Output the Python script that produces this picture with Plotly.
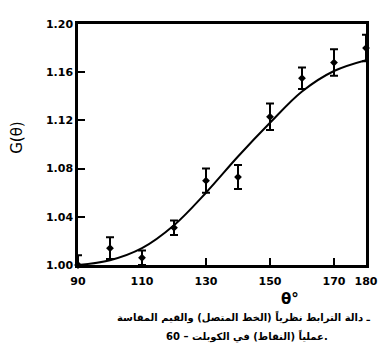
import plotly.graph_objects as go

# Measured points (dots with error bars)
theta_meas = [90, 100, 110, 120, 130, 140, 150, 160, 170, 180]
g_meas = [1.000, 1.014, 1.006, 1.031, 1.070, 1.073, 1.123, 1.155, 1.168, 1.180]
g_err = [0.008, 0.009, 0.006, 0.006, 0.010, 0.010, 0.011, 0.009, 0.011, 0.011]

# Theoretical curve (solid line)
theta_curve = [90, 100, 110, 120, 130, 140, 150, 160, 170, 180]
g_curve = [1.000, 1.004, 1.014, 1.033, 1.060, 1.090, 1.118, 1.144, 1.161, 1.170]

x_ticks = [90, 110, 130, 150, 170, 180]
y_ticks = [1.00, 1.04, 1.08, 1.12, 1.16, 1.20]
y_tick_labels = ["1.00", "1.04", "1.08", "1.12", "1.16", "1.20"]

caption_1 = "ـ دالة الترابط نظرياً (الخط المتصل) والقيم المقاسة"
caption_2 = "عملياً (النقاط) في الكوبلت – 60."

FONT = "DejaVu Sans"

fig = go.Figure()
fig.add_trace(go.Scatter(
    x=theta_curve, y=g_curve, mode="lines",
    line=dict(color="black", width=2, shape="spline", smoothing=1.0),
    cliponaxis=False, hoverinfo="skip", showlegend=False,
))
fig.add_trace(go.Scatter(
    x=theta_meas, y=g_meas, mode="markers",
    marker=dict(symbol="diamond", size=6, color="black"),
    error_y=dict(type="data", array=g_err, visible=True, color="black",
                 thickness=2, width=4),
    cliponaxis=False, showlegend=False,
))

axis_common = dict(
    showgrid=False, zeroline=False, showline=True, linecolor="black",
    linewidth=2.5, mirror=True, ticks="inside", ticklen=7, tickwidth=2,
    tickcolor="black",
    tickfont=dict(family=FONT, size=11, color="black", weight="bold"),
)

fig.update_layout(
    width=392, height=358,
    margin=dict(l=70, r=34, t=10, b=101),
    paper_bgcolor="white", plot_bgcolor="white",
    xaxis=dict(range=[90, 180], tickvals=x_ticks,
               ticktext=[str(v) for v in x_ticks], ticklabelstandoff=4,
               **axis_common),
    yaxis=dict(range=[1.00, 1.20], tickvals=y_ticks,
               ticktext=y_tick_labels, **axis_common),
    annotations=[
        dict(text="G(θ)", x=-0.21, y=0.53, xref="paper", yref="paper",
             xanchor="center", yanchor="middle",
             textangle=-90, showarrow=False,
             font=dict(family=FONT, size=15, color="black")),
        dict(text="θ°", x=0.735, y=-0.14, xref="paper", yref="paper",
             xanchor="center", yanchor="middle", showarrow=False,
             font=dict(family=FONT, size=15, color="black", weight="bold")),
        dict(text=caption_1, x=0.576, y=-0.215, xref="paper", yref="paper",
             xanchor="center", yanchor="middle", showarrow=False,
             font=dict(family=FONT, size=10, color="black", weight="bold")),
        dict(text=caption_2, x=0.586, y=-0.296, xref="paper", yref="paper",
             xanchor="center", yanchor="middle", showarrow=False,
             font=dict(family=FONT, size=10, color="black", weight="bold")),
    ],
)

fig.write_html("out.html")
